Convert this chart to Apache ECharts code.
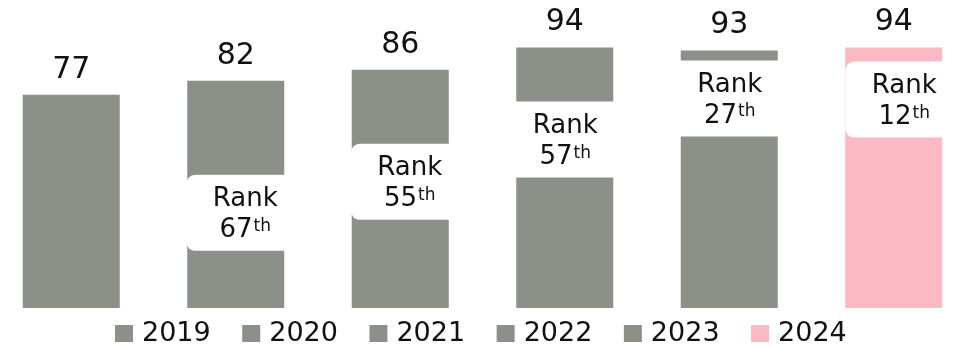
<!DOCTYPE html>
<html>
<head>
<meta charset="utf-8">
<script src="https://cdn.jsdelivr.net/npm/echarts@6/dist/echarts.min.js"></script>
<style>
  html, body { margin: 0; padding: 0; background: #fff; }
  #chart { width: 961px; height: 349px; }
</style>
</head>
<body>
<div id="chart"></div>
<script>
// Yearly scores with the national rank reached each year
const years = ['2019', '2020', '2021', '2022', '2023', '2024'];
const scores = [77, 82, 86, 94, 93, 94];
const ranks = [null, 67, 55, 57, 27, 12];

// Bar colours: the latest year is highlighted
const barColors = ['#8b9088', '#8b9088', '#8b9088', '#8b9088', '#8b9088', '#fab9c3'];

// Rank badge placement, in pixels from the bar's top-left corner (badge centre x, badge top y)
const badgeX = [0, 58, 58, 49, 49, 59];
const badgeY = [0, 94, 74, 54, 10, 14];

const FONT = 'DejaVu Sans';

function suffix(n) {
  const t = n % 100;
  if (t >= 11 && t <= 13) return 'th';
  return ({ 1: 'st', 2: 'nd', 3: 'rd' })[n % 10] || 'th';
}

const yearSeries = years.map((y, i) => ({
  name: y,
  type: 'bar',
  barWidth: 97,
  barGap: '-100%',
  itemStyle: { color: barColors[i] },
  data: scores.map((v, j) => (j === i ? v : '-')),
  label: {
    show: true,
    position: 'top',
    distance: 10,
    fontFamily: FONT,
    fontSize: 30,
    color: '#111'
  },
  silent: true
}));

const rankSeries = {
  name: 'rank',
  type: 'bar',
  barWidth: 97,
  barGap: '-100%',
  z: 5,
  silent: true,
  itemStyle: { color: 'rgba(0,0,0,0)' },
  data: scores.map((v, i) => ({
    value: v,
    label: ranks[i] == null
      ? { show: false }
      : {
          show: true,
          position: [badgeX[i], badgeY[i]],
          formatter: '{r|Rank}\n{n|' + ranks[i] + '}{s|' + suffix(ranks[i]) + '}'
        }
  })),
  label: {
    align: 'center',
    verticalAlign: 'top',
    width: 118,
    padding: [9, 0, 5, 0],
    backgroundColor: '#fff',
    borderRadius: 9,
    fontFamily: FONT,
    color: '#111',
    rich: {
      r: { fontFamily: FONT, fontSize: 26, lineHeight: 31, color: '#111' },
      n: { fontFamily: FONT, fontSize: 26, lineHeight: 31, color: '#111' },
      s: { fontFamily: FONT, fontSize: 17, lineHeight: 18, color: '#111', verticalAlign: 'top', padding: [3, 0, 0, 1] }
    }
  }
};

const chart = echarts.init(document.getElementById('chart'), null, { renderer: 'canvas' });
chart.setOption({
  animation: false,
  backgroundColor: '#fff',
  grid: { left: -11, right: -15, top: 31, bottom: 41, outerBoundsMode: 'none', containLabel: false },
  xAxis: {
    type: 'category',
    data: years,
    show: false
  },
  yAxis: {
    type: 'value',
    min: 0,
    max: 100,
    show: false
  },
  legend: {
    data: years,
    left: 115,
    top: 320,
    padding: 0,
    itemWidth: 18,
    itemHeight: 17,
    itemGap: 31.5,
    icon: 'rect',
    selectedMode: false,
    textStyle: { fontFamily: FONT, fontSize: 27, color: '#111', padding: [0, 0, 0, 4] }
  },
  tooltip: { show: false },
  series: [...yearSeries, rankSeries]
});
</script>
</body>
</html>
